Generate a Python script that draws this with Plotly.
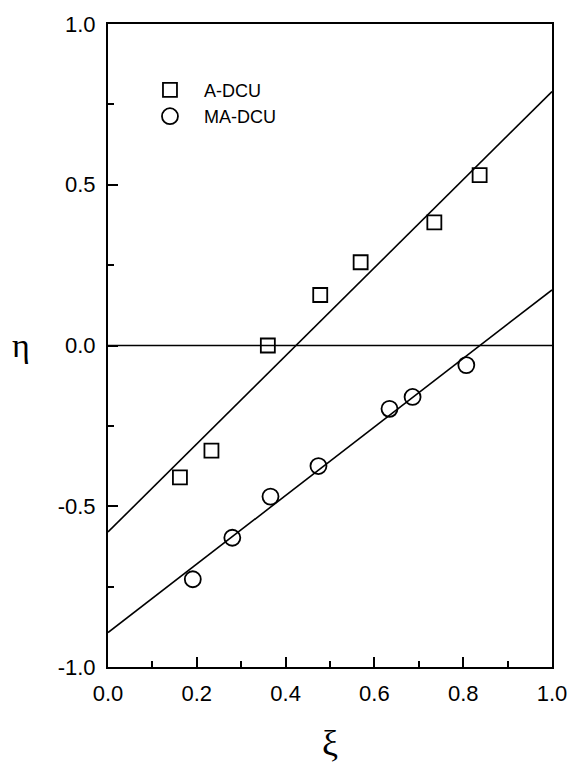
import plotly.graph_objects as go

# A-DCU data (squares)
a_xi = [0.162, 0.233, 0.360, 0.478, 0.569, 0.735, 0.837]
a_eta = [-0.41, -0.327, 0.0, 0.157, 0.259, 0.383, 0.530]
# MA-DCU data (circles)
ma_xi = [0.191, 0.280, 0.366, 0.474, 0.634, 0.686, 0.807]
ma_eta = [-0.727, -0.598, -0.470, -0.375, -0.197, -0.160, -0.061]
# fitted lines (endpoints)
fit_x = [0.0, 1.0]
a_fit = [-0.58, 0.79]
ma_fit = [-0.893, 0.173]
zero_line = [0.0, 0.0]

y_ticks = [-1.0, -0.5, 0.0, 0.5, 1.0]
y_ticktext = ["-1.0", "-0.5", "0.0", "0.5", "1.0"]
x_ticks = [0.0, 0.2, 0.4, 0.6, 0.8, 1.0]
x_ticktext = ["0.0", "0.2", "0.4", "0.6", "0.8", "1.0"]

fig = go.Figure()
fig.add_trace(go.Scatter(x=fit_x, y=zero_line, mode="lines",
                         line=dict(color="black", width=1.6), showlegend=False, hoverinfo="skip"))
fig.add_trace(go.Scatter(x=fit_x, y=a_fit, mode="lines",
                         line=dict(color="black", width=1.6), showlegend=False))
fig.add_trace(go.Scatter(x=fit_x, y=ma_fit, mode="lines",
                         line=dict(color="black", width=1.6), showlegend=False))
fig.add_trace(go.Scatter(x=a_xi, y=a_eta, mode="markers", name="A-DCU",
                         marker=dict(symbol="square-open", size=14, color="black",
                                     line=dict(width=1.8))))
fig.add_trace(go.Scatter(x=ma_xi, y=ma_eta, mode="markers", name="MA-DCU",
                         marker=dict(symbol="circle-open", size=16, color="black",
                                     line=dict(width=1.8))))

axis_common = dict(showgrid=False, zeroline=False, showline=True, linecolor="black",
                   linewidth=2, mirror=True, ticks="inside", ticklen=10, tickwidth=2,
                   tickcolor="black", automargin=False,
                   tickfont=dict(family="Liberation Sans, Arial, sans-serif", size=22, color="black"))

fig.update_xaxes(range=[0, 1], tickvals=x_ticks, ticktext=x_ticktext,
                 minor=dict(ticks="inside", ticklen=6, tickwidth=2, dtick=0.1, tickcolor="black"),
                 ticklabelstandoff=6,
                 **axis_common)
fig.update_yaxes(range=[-1, 1], tickvals=y_ticks, ticktext=y_ticktext,
                 minor=dict(ticks="inside", ticklen=6, tickwidth=2, dtick=0.25, tickcolor="black"),
                 ticklabelstandoff=6,
                 **axis_common)

fig.add_annotation(text="η", xref="paper", yref="paper", x=-0.195, y=0.5,
                   xanchor="center", yanchor="middle", showarrow=False,
                   font=dict(family="Liberation Serif, Times New Roman, serif", size=34, color="black"))
fig.add_annotation(text="ξ", xref="paper", yref="paper", x=0.5, y=-0.118,
                   xanchor="center", yanchor="middle", showarrow=False,
                   font=dict(family="Liberation Serif, Times New Roman, serif", size=36, color="black"))

fig.update_layout(
    template="none",
    width=568, height=763,
    margin=dict(l=108, r=16, t=24, b=96),
    paper_bgcolor="white", plot_bgcolor="white",
    legend=dict(x=0.063, y=0.926, xanchor="left", yanchor="top",
                bgcolor="rgba(0,0,0,0)", itemwidth=58,
                font=dict(family="Liberation Sans, Arial, sans-serif", size=18, color="black"),
                tracegroupgap=2),
)

fig.write_html("out.html")
